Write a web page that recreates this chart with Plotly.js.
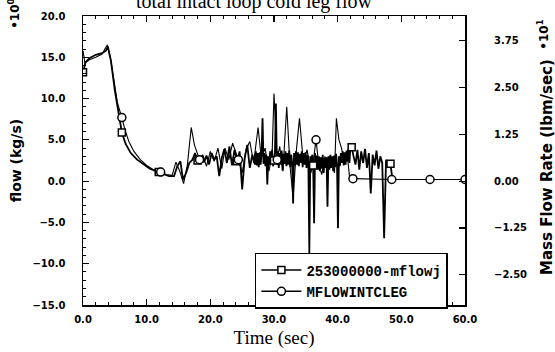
<!DOCTYPE html>
<html>
<head>
<meta charset="utf-8">
<script src="https://cdn.plot.ly/plotly-3.0.1.min.js"></script>
<style>
  html, body { margin: 0; padding: 0; background: #fff; }
  #chart { width: 555px; height: 352px; }
</style>
</head>
<body>
<div id="chart"></div>
<script>
// ---- data ----
const seriesNames = ['253000000-mflowj', 'MFLOWINTCLEG'];

// series 1: 253000000-mflowj (square markers)
const timeA = [0,0.4,1.0,2.0,3.0,3.6,3.9,4.4,5.0,5.6,6.1,6.7,7.5,8.5,9.5,10.5,11.9,12.5,13.5,14.3,
  14.8,15.3,15.7,16.2,16.7,17.2,17.6,18.0,18.5,19.0,19.4,19.8,20.2,20.6,21.0,21.4,21.8,22.2,22.6,23.0,23.4,23.8,24.2,24.6,25.0,25.4,25.8,26.2,26.6,27.0,
  27.15,27.3,27.45,27.6,27.75,27.9,28.05,28.2,28.35,28.5,
  28.65,28.8,28.95,29.1,29.25,29.4,29.55,29.7,29.85,30.0,
  30.15,30.3,30.45,30.6,30.75,30.9,31.05,31.2,31.35,31.5,
  31.65,31.8,31.95,32.1,32.25,32.4,32.55,32.7,32.85,33.0,
  33.15,33.3,33.45,33.6,33.75,33.9,34.05,34.2,34.35,34.5,
  34.65,34.8,34.95,35.1,35.25,35.4,35.55,35.7,35.85,36.0,
  36.15,36.3,36.45,36.6,36.75,36.9,37.05,37.2,37.35,37.5,
  37.65,37.8,37.95,38.1,38.25,38.4,38.55,38.7,38.85,39.0,
  39.15,39.3,39.45,39.6,39.75,39.9,40.05,40.2,40.35,40.5,
  40.65,40.8,40.95,41.1,41.25,41.4,41.55,41.7,41.85,42.0,
  42.2,42.5,42.8,43.1,43.4,43.7,44.0,44.3,44.6,44.9,45.2,45.5,45.8,46.1,46.4,46.7,47.0,47.3,47.6,47.9,48.3,48.6];
const flowA = [13.2,14.4,14.9,15.3,15.5,15.8,16.3,14.5,11.0,8.0,5.9,4.5,3.4,2.6,2.0,1.5,1.1,0.9,0.6,0.6,
  1.8,2.4,0.2,1.0,2.2,2.6,3.4,2.5,2.9,2.3,3.1,2.0,3.4,2.6,3.0,0.6,2.8,3.9,2.2,4.2,1.9,3.8,2.4,3.6,-1.0,2.8,4.4,1.6,3.2,2.0,
  3.6,1.9,3.4,1.7,3.5,2.0,3.3,7.6,2.1,3.4,
  1.8,3.2,-0.4,3.0,1.9,3.6,2.2,3.8,1.8,2.5,
  3.5,9.4,2.0,3.6,1.6,3.4,2.0,3.7,1.3,3.3,
  2.1,3.6,1.8,3.4,2.0,3.7,1.7,3.2,2.2,-2.7,
  3.4,1.9,3.6,2.0,3.5,1.8,3.3,2.2,3.6,1.7,
  3.4,2.0,3.5,1.6,3.2,2.0,-8.7,3.0,1.8,3.2,
  1.9,-5.1,3.4,1.6,3.1,1.4,3.0,1.2,2.9,1.5,
  3.2,1.0,2.8,1.6,2.9,-3.1,3.0,1.4,3.2,1.6,
  3.0,1.2,3.1,1.7,3.3,2.0,-5.7,3.0,1.8,3.4,
  2.2,3.6,1.9,3.5,2.0,3.7,2.4,3.9,2.2,4.3,
  4.1,3.0,2.0,3.8,1.4,3.6,2.2,3.9,1.6,3.4,-1.5,3.2,1.9,3.7,1.5,3.0,2.2,-6.9,2.6,1.7,2.1,0.2];
const squareMarkerTimes = [0,6.1,11.9,18.0,24.2,30.0,36.15,42.2,48.3];

// series 2: MFLOWINTCLEG (circle markers)
const timeB = [0,0.3,1.0,2.0,3.0,3.8,4.3,4.8,5.4,6.1,6.6,7.2,8.0,9.0,10.0,11.0,12.2,13.0,14.0,
  14.6,15.2,15.8,16.4,17.0,17.5,18.3,18.8,19.4,20.0,20.6,21.2,21.8,22.3,22.9,23.5,24.4,25.0,25.6,26.2,
  26.8,27.5,28.0,28.6,29.2,29.7,30.0,30.5,30.9,31.4,32.0,32.5,33.0,33.5,34.0,34.6,35.2,35.8,36.2,36.6,
  37.0,37.5,38.0,38.5,39.0,39.5,39.8,40.2,40.6,41.0,41.5,41.9,42.4,48.5,54.5,60];
const flowB = [15.8,14.3,14.7,15.0,15.4,16.5,15.0,12.5,9.5,7.7,6.2,4.8,3.6,2.6,1.9,1.4,1.1,0.8,0.7,
  2.3,1.2,-0.3,2.0,6.5,4.4,2.6,3.2,1.8,3.6,2.4,4.0,1.5,4.0,2.6,4.6,2.6,1.0,3.8,4.8,
  2.2,6.5,2.8,4.0,1.2,3.2,10.6,2.6,4.2,1.2,9.0,2.0,-2.0,3.6,7.6,2.4,3.8,1.0,2.6,5.0,
  2.2,0.8,3.0,1.5,2.6,1.0,7.6,5.0,4.0,2.5,3.2,0.3,0.3,0.2,0.2,0.2];
const circleMarkerTimes = [6.1,12.2,18.3,24.4,30.5,36.6,42.4,48.5,54.5,60];

// axis ticks
const xTickVals = [0,10,20,30,40,50,60];
const yTickVals = [-15,-10,-5,0,5,10,15,20];
const y2TickVals = [-2.5,-1.25,0,1.25,2.5,3.75];
const kgPerLbm = 0.45359237;   // right axis is lbm/s * 10^1
const yRange = [-15, 20];

// ---- build ----
function pick(ts, vs, wanted) {
  const xs = [], ys = [];
  wanted.forEach(w => { const i = ts.indexOf(w); if (i >= 0) { xs.push(ts[i]); ys.push(vs[i]); } });
  return {xs, ys};
}
const mA = pick(timeA, flowA, squareMarkerTimes);
const mB = pick(timeB, flowB, circleMarkerTimes);

const markerA = {symbol: 'square', size: 7, color: '#fff', line: {color: '#000', width: 1.5}};
const markerB = {symbol: 'circle', size: 8, color: '#fff', line: {color: '#000', width: 1.5}};

const traces = [
  {x: timeA, y: flowA, mode: 'lines', line: {color: '#000', width: 1.8}, showlegend: false, hoverinfo: 'skip'},
  {x: timeB, y: flowB, mode: 'lines', line: {color: '#000', width: 1.1}, showlegend: false, hoverinfo: 'skip'},
  {x: mA.xs, y: mA.ys, mode: 'markers', marker: markerA, showlegend: false},
  {x: mB.xs, y: mB.ys, mode: 'markers', marker: markerB, showlegend: false},
  {x: [null], y: [null], mode: 'lines+markers', name: seriesNames[0], line: {color: '#000', width: 1.5}, marker: markerA},
  {x: [null], y: [null], mode: 'lines+markers', name: seriesNames[1], line: {color: '#000', width: 1.5}, marker: markerB},
  {x: [null], y: [null], yaxis: 'y2', mode: 'lines', showlegend: false, hoverinfo: 'skip'}
];

const tickFont = {family: 'DejaVu Sans', size: 10, color: '#000', weight: 'bold'};
const boldSans = {family: 'DejaVu Sans', size: 12, color: '#000', weight: 'bold'};

const layout = {
  width: 555, height: 352,
  margin: {l: 83, r: 90, t: 16, b: 47, pad: 0},
  paper_bgcolor: '#fff', plot_bgcolor: '#fff',
  showlegend: true,
  title: {
    text: 'total intact loop cold leg flow',
    font: {family: 'Liberation Serif', size: 20, color: '#000'},
    x: 254 / 555, xref: 'container', xanchor: 'center',
    y: 0.997, yref: 'container', yanchor: 'middle'
  },
  xaxis: {
    range: [0, 60], tickvals: xTickVals, tickformat: '.1f',
    ticks: 'inside', ticklen: 6, tickwidth: 1.2, tickcolor: '#000',
    minor: {dtick: 2, ticks: 'inside', ticklen: 3, tickcolor: '#000', tickwidth: 1},
    showline: true, linecolor: '#000', linewidth: 1.5, mirror: 'ticks',
    showgrid: false, zeroline: false,
    tickfont: tickFont, ticklabelstandoff: 4,
    title: {text: 'Time (sec)', font: {family: 'Liberation Serif', size: 19, color: '#000'}, standoff: 7}
  },
  yaxis: {
    range: yRange, tickvals: yTickVals, tickformat: '.1f',
    ticks: 'inside', ticklen: 6, tickwidth: 1.2, tickcolor: '#000',
    minor: {dtick: 1, ticks: 'inside', ticklen: 3, tickcolor: '#000', tickwidth: 1},
    showline: true, linecolor: '#000', linewidth: 1.5, mirror: true,
    showgrid: false, zeroline: false,
    tickfont: tickFont, ticklabelstandoff: 14,
    title: {text: 'flow (kg/s)', font: {family: 'DejaVu Sans', size: 14, color: '#000', weight: 'bold'}, standoff: 7}
  },
  yaxis2: {
    overlaying: 'y', side: 'right',
    range: [yRange[0] / kgPerLbm / 10, yRange[1] / kgPerLbm / 10],
    tickvals: y2TickVals, tickformat: '.2f',
    ticks: 'inside', ticklen: 6, tickwidth: 1.2, tickcolor: '#000',
    showline: false, showgrid: false, zeroline: false,
    tickfont: tickFont, ticklabelstandoff: 28
  },
  legend: {
    x: 0.45, y: 0.18, xanchor: 'left', yanchor: 'top',
    bgcolor: '#fff', bordercolor: '#000', borderwidth: 1.5,
    font: {family: 'Liberation Mono', size: 14, color: '#000', weight: 'bold'},
    tracegroupgap: 0, itemwidth: 40
  },
  annotations: [
    {text: '•10<sup>0</sup>', xref: 'paper', yref: 'paper', x: -0.181, y: 1.007,
     xanchor: 'center', yanchor: 'middle', textangle: -90, showarrow: false, font: boldSans},
    {text: '•10<sup>1</sup>', xref: 'paper', yref: 'paper', x: 1.204, y: 0.935,
     xanchor: 'center', yanchor: 'middle', textangle: -90, showarrow: false, font: boldSans},
    {text: 'Mass Flow Rate (lbm/sec)', xref: 'paper', yref: 'paper', x: 1.215, y: 0.478,
     xanchor: 'center', yanchor: 'middle', textangle: -90, showarrow: false,
     font: {family: 'DejaVu Sans', size: 15, color: '#000', weight: 'bold'}}
  ]
};

Plotly.newPlot('chart', traces, layout, {staticPlot: true, displayModeBar: false});
</script>
</body>
</html>
